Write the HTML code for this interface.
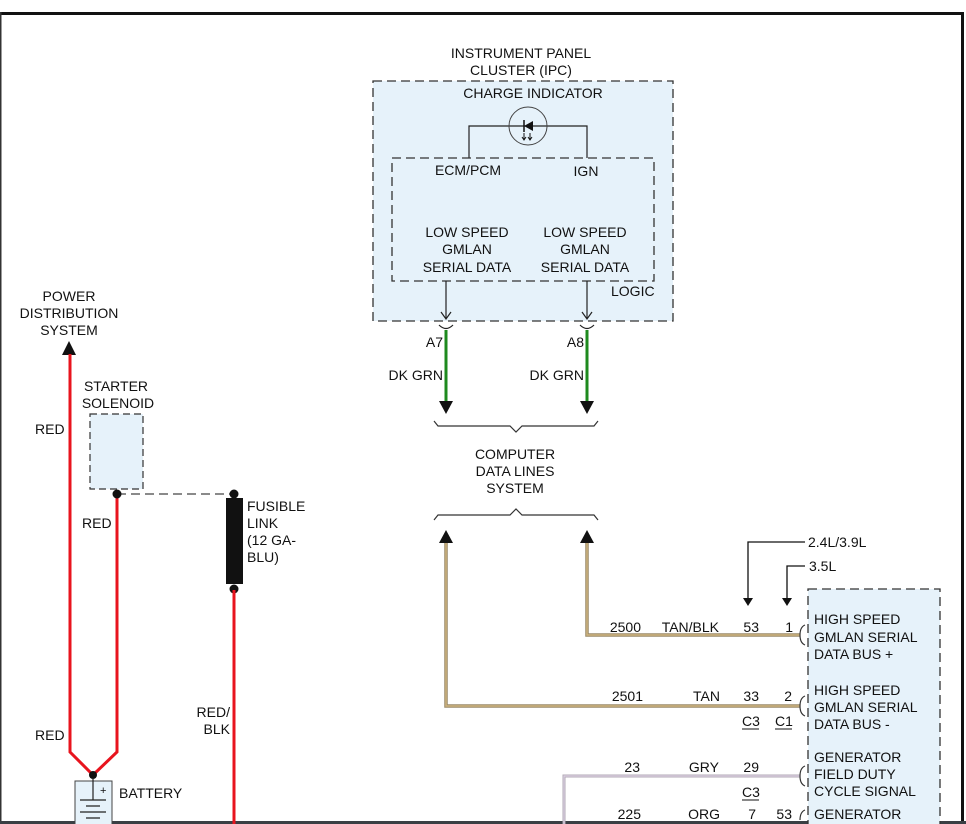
<!DOCTYPE html>
<html><head><meta charset="utf-8"><style>
html,body{margin:0;padding:0;background:#fff}
svg{display:block}
text{font-family:"Liberation Sans",sans-serif;font-size:14px;fill:#111}
</style></head><body>
<svg width="966" height="824" viewBox="0 0 966 824" xmlns="http://www.w3.org/2000/svg">
<!-- frame -->
<rect x="0" y="12" width="963" height="3" fill="#111"/>
<rect x="0" y="12" width="1.5" height="812" fill="#333"/>
<rect x="961" y="12" width="3" height="812" fill="#111"/>
<rect x="0" y="821" width="966" height="3" fill="#3a3f44"/>

<!-- IPC box -->
<text x="521" y="58" text-anchor="middle">INSTRUMENT PANEL</text>
<text x="521" y="75" text-anchor="middle">CLUSTER (IPC)</text>
<rect x="373" y="81" width="300" height="240" fill="#e6f2fa" stroke="#333" stroke-width="1.3" stroke-dasharray="9,5"/>
<text x="533" y="98" text-anchor="middle">CHARGE INDICATOR</text>
<polyline points="469,158 469,126 587,126 587,158" fill="none" stroke="#222" stroke-width="1.2"/>
<circle cx="528" cy="126" r="19" fill="none" stroke="#444" stroke-width="1"/>
<path d="M524,126 L533,121 L533,131 z" fill="#111"/><line x1="524" y1="120" x2="524" y2="132" stroke="#111" stroke-width="1.5"/>
<path d="M524,133 v6 M522,137 l2,3 l2,-3 M530,133 v6 M528,137 l2,3 l2,-3" stroke="#111" stroke-width="1" fill="none"/>
<rect x="392" y="158" width="262" height="123" fill="none" stroke="#333" stroke-width="1.3" stroke-dasharray="9,5"/>
<text x="468" y="175" text-anchor="middle">ECM/PCM</text>
<text x="586" y="176" text-anchor="middle">IGN</text>
<g text-anchor="middle">
<text x="467" y="237">LOW SPEED</text><text x="467" y="254">GMLAN</text><text x="467" y="272">SERIAL DATA</text>
<text x="585" y="237">LOW SPEED</text><text x="585" y="254">GMLAN</text><text x="585" y="272">SERIAL DATA</text>
</g>
<text x="611" y="296">LOGIC</text>
<line x1="446" y1="281" x2="446" y2="318" stroke="#222" stroke-width="1.2"/>
<path d="M441,312 L446,319 L451,312" fill="none" stroke="#222" stroke-width="1.2"/>
<line x1="587" y1="281" x2="587" y2="318" stroke="#222" stroke-width="1.2"/>
<path d="M582,312 L587,319 L592,312" fill="none" stroke="#222" stroke-width="1.2"/>
<path d="M439,325 q7,7 14,0 M580,325 q7,7 14,0" fill="none" stroke="#222" stroke-width="1.2"/>
<line x1="446" y1="330" x2="446" y2="402" stroke="#1e8a1e" stroke-width="3"/>
<line x1="587" y1="330" x2="587" y2="402" stroke="#1e8a1e" stroke-width="3"/>
<path d="M439,401 L453,401 L446,414 z M580,401 L594,401 L587,414 z" fill="#111"/>
<text x="443" y="347" text-anchor="end">A7</text>
<text x="584" y="347" text-anchor="end">A8</text>
<text x="443" y="380" text-anchor="end">DK GRN</text>
<text x="584" y="380" text-anchor="end">DK GRN</text>
<path d="M434,421 l4,5 h72 l6,6 l6,-6 h72 l4,-5" fill="none" stroke="#333" stroke-width="1.2"/>
<g text-anchor="middle">
<text x="515" y="459">COMPUTER</text><text x="515" y="476">DATA LINES</text><text x="515" y="493">SYSTEM</text>
</g>
<path d="M434,520 l4,-5 h72 l6,-6 l6,6 h72 l4,5" fill="none" stroke="#333" stroke-width="1.2"/>
<path d="M439,543 L453,543 L446,530 z M580,543 L594,543 L587,530 z" fill="#111"/>
<polyline points="446,543 446,706 800,706" fill="none" stroke="#9a8a6a" stroke-width="3.5"/>
<polyline points="446,543 446,706 800,706" fill="none" stroke="#cdb27c" stroke-width="1.5"/>
<polyline points="587,543 587,635 800,635" fill="none" stroke="#9a8a6a" stroke-width="3.5"/>
<polyline points="587,543 587,635 800,635" fill="none" stroke="#cdb27c" stroke-width="1.5"/>
<polyline points="564,824 564,776 800,776" fill="none" stroke="#b0a8b4" stroke-width="3"/>
<polyline points="564,824 564,776 800,776" fill="none" stroke="#dcd0e2" stroke-width="1.2"/>
<path d="M805,625 q-5,2 -5,10 q0,8 5,10 M805,696 q-5,2 -5,10 q0,8 5,10 M805,766 q-5,2 -5,10 q0,8 5,10 M805,810 q-5,2 -5,10" fill="none" stroke="#333" stroke-width="1.2"/>
<g text-anchor="end">
<text x="641" y="632">2500</text><text x="719" y="632">TAN/BLK</text><text x="759" y="632">53</text><text x="793" y="632">1</text>
<text x="643" y="701">2501</text><text x="720" y="701">TAN</text><text x="759" y="701">33</text><text x="792" y="701">2</text>
<text x="640" y="772">23</text><text x="719" y="772">GRY</text><text x="759" y="772">29</text>
<text x="641" y="819">225</text><text x="720" y="819">ORG</text><text x="756" y="819">7</text><text x="792" y="819">53</text>
</g>
<text x="742" y="726">C3</text><line x1="742" y1="729" x2="759" y2="729" stroke="#111"/>
<text x="775" y="726">C1</text><line x1="775" y1="729" x2="792" y2="729" stroke="#111"/>
<text x="742" y="797">C3</text><line x1="742" y1="800" x2="759" y2="800" stroke="#111"/>
<polyline points="805,542 748,542 748,600" fill="none" stroke="#111" stroke-width="1.3"/>
<path d="M743,598 L753,598 L748,606 z" fill="#111"/>
<text x="808" y="547">2.4L/3.9L</text>
<polyline points="805,566 787,566 787,600" fill="none" stroke="#111" stroke-width="1.3"/>
<path d="M782,598 L792,598 L787,606 z" fill="#111"/>
<text x="809" y="571">3.5L</text>
<rect x="808" y="589" width="132" height="240" fill="#e6f2fa" stroke="#333" stroke-width="1.3" stroke-dasharray="9,5"/>
<text x="814" y="624">HIGH SPEED</text><text x="814" y="642">GMLAN SERIAL</text><text x="814" y="659">DATA BUS +</text>
<text x="814" y="695">HIGH SPEED</text><text x="814" y="712">GMLAN SERIAL</text><text x="814" y="729">DATA BUS -</text>
<text x="814" y="762">GENERATOR</text><text x="814" y="779">FIELD DUTY</text><text x="814" y="796">CYCLE SIGNAL</text>
<text x="814" y="819">GENERATOR</text>

<g text-anchor="middle">
<text x="69" y="301">POWER</text><text x="69" y="318">DISTRIBUTION</text><text x="69" y="335">SYSTEM</text>
<text x="116" y="391">STARTER</text><text x="118" y="408">SOLENOID</text>
</g>
<path d="M62,355 L76,355 L69,341 z" fill="#111"/>
<polyline points="70,354 70,752 93,775 117,752 117,494" fill="none" stroke="#e8141e" stroke-width="3"/>
<text x="35" y="434">RED</text>
<text x="82" y="528">RED</text>
<text x="35" y="740">RED</text>
<rect x="90" y="414" width="53" height="75" fill="#e6f2fa" stroke="#333" stroke-width="1.2" stroke-dasharray="7,4"/>
<line x1="117" y1="494" x2="234" y2="494" stroke="#444" stroke-width="1.3" stroke-dasharray="9,5"/>
<circle cx="117" cy="494" r="4.5" fill="#111"/>
<circle cx="234" cy="494" r="4.5" fill="#111"/>
<rect x="226" y="498" width="17" height="86" fill="#111"/>
<circle cx="234" cy="589" r="4.5" fill="#111"/>
<line x1="234" y1="590" x2="234" y2="824" stroke="#e8141e" stroke-width="3"/>
<text x="247" y="511">FUSIBLE</text><text x="247" y="528">LINK</text><text x="247" y="545">(12 GA-</text><text x="247" y="562">BLU)</text>
<text x="230" y="717" text-anchor="end">RED/</text><text x="230" y="734" text-anchor="end">BLK</text>
<circle cx="93" cy="775" r="4" fill="#111"/>
<rect x="75" y="781" width="37" height="45" fill="#e6f2fa" stroke="#444" stroke-width="1"/>
<path d="M93,778 V800 M80,800 H106 M86,806 H100 M80,812 H106 M86,818 H100" stroke="#222" stroke-width="1.2" fill="none"/>
<text x="100" y="794" style="font-size:11px">+</text>
<text x="119" y="798">BATTERY</text>
</svg>
</body></html>
